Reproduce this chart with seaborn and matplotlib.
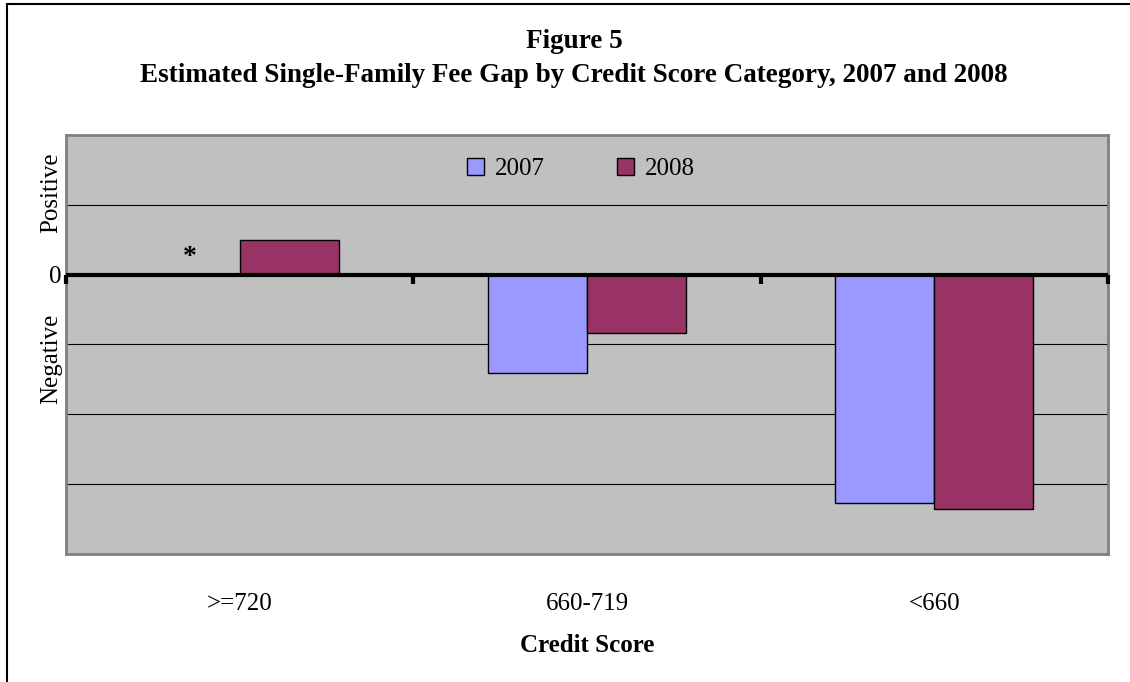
import numpy as np
import pandas as pd
import matplotlib
matplotlib.use("Agg")
import matplotlib.pyplot as plt
from matplotlib.lines import Line2D
import seaborn as sns

categories = [">=720", "660-719", "<660"]
years = ["2007", "2008"]
v2007 = [np.nan, -1.41, -3.27]
v2008 = [0.50, -0.84, -3.35]
colors = ["#9999FF", "#993366"]

sns.set_theme(style="white")
plt.rcParams["font.family"] = ["Liberation Serif", "DejaVu Serif"]
plt.rcParams["text.color"] = "black"
plt.rcParams["axes.labelcolor"] = "black"
plt.rcParams["xtick.color"] = "black"
plt.rcParams["ytick.color"] = "black"

df = pd.DataFrame({
    "Credit Score": categories * 2,
    "Year": [years[0]] * 3 + [years[1]] * 3,
    "Gap": v2007 + v2008,
})

fig = plt.figure(figsize=(11.30, 6.82), dpi=100)
fig.patch.set_facecolor("white")
ax = fig.add_axes([66 / 1130, 1 - 554 / 682, (1108 - 66) / 1130, (554 - 135) / 682])
ax.set_facecolor("#C0C0C0")

sns.barplot(data=df, x="Credit Score", y="Gap", hue="Year", order=categories,
            hue_order=years, palette=colors, width=0.57, gap=0,
            edgecolor="black", linewidth=1.0, saturation=1, ax=ax)

ax.set_xlim(-0.5, len(categories) - 0.5)
ax.set_ylim(-4, 2)
yt = np.arange(-4, 3)
ax.set_yticks(yt)
ax.set_yticklabels(["0" if v == 0 else "" for v in yt], fontsize=18)
ax.tick_params(axis="y", length=0, pad=3, colors="black")
for v in yt:
    if v not in (0, -4, 2):
        ax.axhline(v, color="black", lw=0.8, zorder=0.5)
ax.axhline(0, color="black", lw=3, zorder=3)
bounds = np.arange(len(categories) + 1) - 0.5
ax.vlines(bounds, -0.13, 0, colors="black", lw=3, zorder=3, clip_on=False)

ax.tick_params(axis="x", length=0, pad=28, labelsize=18, colors="black")
ax.set_xlabel("Credit Score", fontsize=18, fontweight="bold", labelpad=14, color="black")
ax.set_ylabel("")

for s in ax.spines.values():
    s.set_color("#808080")
    s.set_linewidth(2)

# missing 2007 value marker
ax.text(0 - 0.57 / 4, 0.24, "*", ha="center", va="center", fontsize=20,
        fontweight="bold", color="black")

trans = matplotlib.transforms.blended_transform_factory(ax.transAxes, ax.transData)
ax.text(-0.0144, 1.17, "Positive", rotation=90, ha="center", va="center",
        fontsize=18, transform=trans, color="black")
ax.text(-0.0144, -1.21, "Negative", rotation=90, ha="center", va="center",
        fontsize=18, transform=trans, color="black")

leg = ax.legend(loc="upper center", bbox_to_anchor=(0.494, 1.0), ncol=2,
                frameon=False, fontsize=18, handlelength=0.7, handleheight=0.7,
                handletextpad=0.4, columnspacing=2.9, borderaxespad=0.5)
for t in leg.get_texts():
    t.set_color("black")

fig.text(0.508, 1 - 42 / 682, "Figure 5", ha="center", va="center",
         fontsize=19.5, fontweight="bold", color="black")
fig.text(0.508, 1 - 75 / 682,
         "Estimated Single-Family Fee Gap by Credit Score Category, 2007 and 2008",
         ha="center", va="center", fontsize=19.5, fontweight="bold", color="black")

fig.add_artist(Line2D([7 / 1130, 7 / 1130], [0, 1 - 4 / 682], color="black", lw=1.5))
fig.add_artist(Line2D([7 / 1130, 1], [1 - 4 / 682, 1 - 4 / 682], color="black", lw=1.5))

fig.savefig("out.png", dpi=100, facecolor="white")
